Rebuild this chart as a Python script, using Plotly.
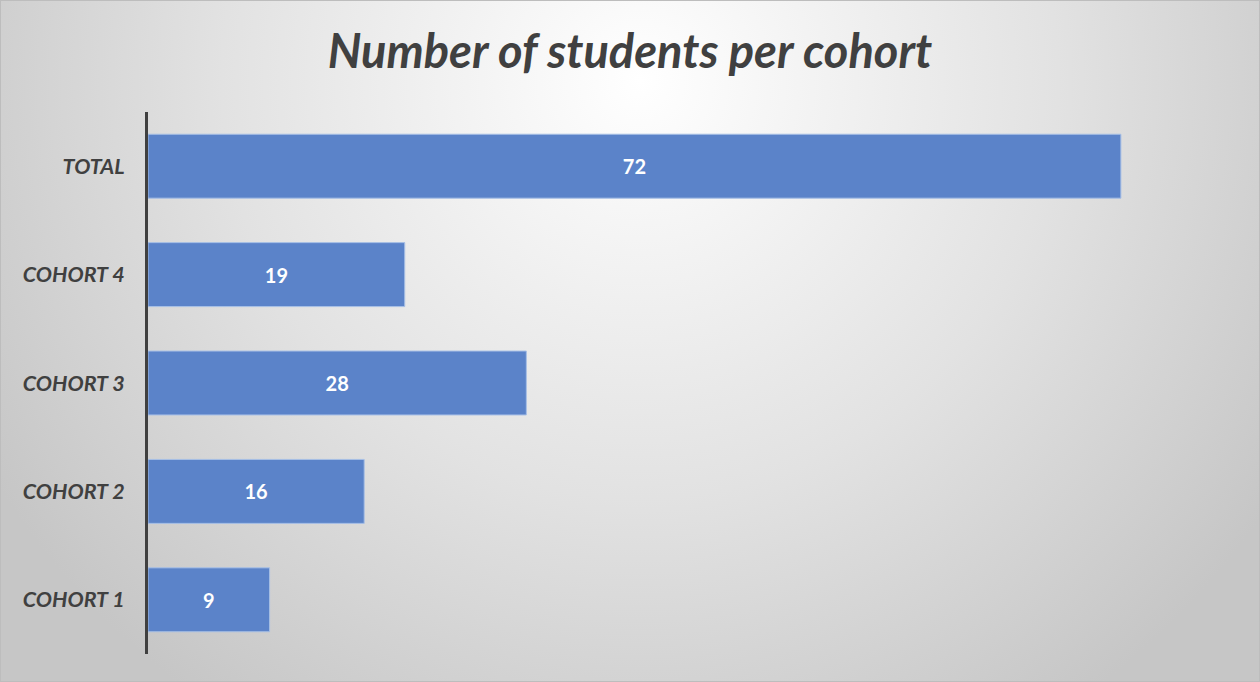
import base64
import plotly.graph_objects as go

categories = ["COHORT 1", "COHORT 2", "COHORT 3", "COHORT 4", "TOTAL"]
students = [9, 16, 28, 19, 72]
title_text = "Number of students per cohort"

W, H = 1260, 682
ML, MR, MT, MB = 148, 31, 112, 28
PW, PH = W - ML - MR, H - MT - MB

svg = f'''<svg xmlns="http://www.w3.org/2000/svg" width="{W}" height="{H}" viewBox="0 0 {W} {H}" preserveAspectRatio="none">
<defs><radialGradient id="g" gradientUnits="userSpaceOnUse" cx="640" cy="80" r="760">
<stop offset="0" stop-color="#ffffff"/><stop offset="0.55" stop-color="#e2e2e2"/><stop offset="1" stop-color="#c6c6c6"/>
</radialGradient></defs>
<rect x="0" y="0" width="{W}" height="{H}" fill="url(#g)"/>
<rect x="0.5" y="0.5" width="{W-1}" height="{H-1}" fill="none" stroke="#bdbdbd" stroke-width="1"/>
</svg>'''
bg_uri = "data:image/svg+xml;base64," + base64.b64encode(svg.encode()).decode()

fig = go.Figure(go.Bar(
    x=students, y=categories, orientation="h",
    marker=dict(color="#5b83c9", line=dict(color="#a8c0e6", width=1)),
    text=students, textposition="inside", insidetextanchor="middle",
    textfont=dict(family="Lato", size=20, color="white", weight="bold"),
    texttemplate="%{text}", cliponaxis=False, hoverinfo="skip",
))

fig.update_layout(
    width=W, height=H,
    margin=dict(l=ML, r=MR, t=MT, b=MB, autoexpand=False),
    paper_bgcolor="#dcdcdc", plot_bgcolor="rgba(0,0,0,0)",
    bargap=0.41, showlegend=False,
    title=dict(text=title_text, x=0.5, xref="container", xanchor="center",
               y=1 - 52 / H, yref="container", yanchor="middle",
               font=dict(family="Lato", size=47, color="#404040", weight="bold", style="italic")),
    xaxis=dict(range=[0, 80], visible=False, showgrid=False, zeroline=False),
    yaxis=dict(showline=True, linecolor="#404040", linewidth=3, showgrid=False, zeroline=False,
               ticks="", ticklabelstandoff=16,
               tickfont=dict(family="Lato", size=21.5, color="#404040", weight="bold", style="italic")),
    images=[dict(source=bg_uri, xref="paper", yref="paper",
                 x=-ML / PW, y=1 + MT / PH, sizex=W / PW, sizey=H / PH,
                 xanchor="left", yanchor="top", sizing="stretch", layer="below")],
)

fig.write_html("out.html", config={"displayModeBar": False},
               post_script="document.body.style.margin='0';document.body.style.overflow='hidden';")
